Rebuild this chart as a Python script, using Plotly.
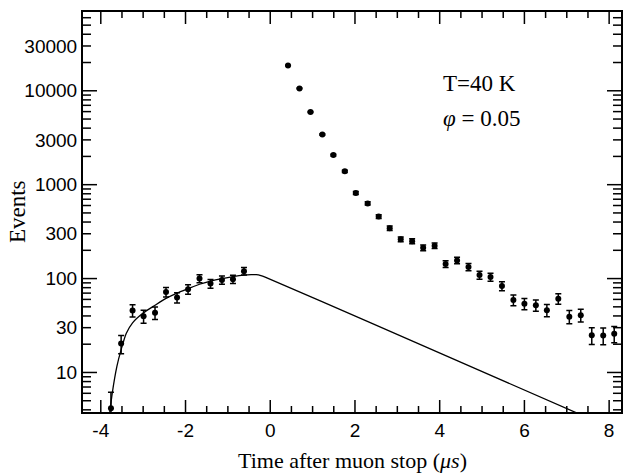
import plotly.graph_objects as go

# ---- data ----
pre_t = [-3.76, -3.52, -3.25, -2.99, -2.72, -2.46, -2.20, -1.94, -1.67, -1.41, -1.14, -0.88, -0.62]
pre_n = [4.15, 20.3, 45.8, 39.8, 43.3, 72, 62.7, 77, 100, 88.5, 96.8, 98.6, 120]
pre_err = [2.0, 4.5, 6.8, 6.3, 6.6, 8.5, 7.9, 8.8, 10.0, 9.4, 9.8, 9.9, 11.0]

post_t = [0.42, 0.69, 0.95, 1.23, 1.49, 1.76, 2.02, 2.30, 2.56, 2.82, 3.08, 3.35, 3.61, 3.88,
          4.14, 4.41, 4.68, 4.94, 5.20, 5.47, 5.74, 6.00, 6.27, 6.53, 6.80, 7.06, 7.33, 7.59,
          7.86, 8.12]
post_n = [18600, 10600, 5930, 3420, 2066, 1386, 817, 631, 458, 344, 262, 250, 213, 224,
          143, 156, 133, 109, 104, 83.5, 59, 54, 52, 46, 61, 39.3, 40.8, 24.9, 24.7, 25.8]
post_err = [136, 103, 77, 58, 45, 37, 29, 25, 21, 18.5, 16, 15.8, 14.6, 15,
            12, 12.5, 11.5, 10.4, 10.2, 9.1, 7.7, 7.4, 7.2, 6.8, 7.8, 6.3, 6.4, 5.0, 5.0, 5.1]

fit_t = [-3.79, -3.73, -3.62, -3.52, -3.40, -3.25, -3.00, -2.72, -2.46, -2.20, -1.94, -1.67,
         -1.41, -1.14, -0.88, -0.62, -0.45, -0.33, -0.22, -0.12, 2.36, 7.30]
fit_n = [3.7, 6.0, 11.6, 17.5, 26, 33.8, 43, 52, 61.5, 70, 78, 87,
         94, 100, 105, 108.8, 110, 110, 107.5, 103.5, 34, 3.6]

x_ticks = [-4, -2, 0, 2, 4, 6, 8]
x_labels = ["-4", "-2", "0", "2", "4", "6", "8"]
x_minor = [k / 2 for k in range(-8, 17) if k % 4 != 0]
y_ticks = [10, 30, 100, 300, 1000, 3000, 10000, 30000]
y_labels = ["10", "30", "100", "300", "1000", "3000", "10000", "30000"]
y_decades = [10, 100, 1000, 10000]
y_minor = [m * d for d in [1, 10, 100, 1000, 10000] for m in range(2, 10)
           if 4 <= m * d <= 60000]

Y_RANGE = [0.579, 4.839]
X_RANGE = [-4.42, 8.28]

tickfont = dict(family="Liberation Sans Narrow, Liberation Sans, Arial", size=19, color="black")
serif = "Liberation Serif, Times New Roman, serif"

fig = go.Figure()

marker = dict(color="black", size=6, symbol="circle")
err_style = dict(color="black", thickness=1.5, width=3)
fig.add_trace(go.Scatter(x=pre_t, y=pre_n, mode="markers", marker=marker,
                         error_y=dict(type="data", array=pre_err, **err_style),
                         showlegend=False))
fig.add_trace(go.Scatter(x=post_t, y=post_n, mode="markers", marker=marker,
                         error_y=dict(type="data", array=post_err, **err_style),
                         showlegend=False))
fig.add_trace(go.Scatter(x=fit_t, y=fit_n, mode="lines",
                         line=dict(color="black", width=1.3, shape="spline", smoothing=0.6),
                         showlegend=False))

# empty helper traces so that the top / right frame axes get drawn
for xa, ya in [("x2", "y"), ("x", "y2")]:
    fig.add_trace(go.Scatter(x=[], y=[], xaxis=xa, yaxis=ya, mode="markers",
                             showlegend=False, hoverinfo="skip"))

# tick marks drawn as inward pixel-sized lines, placed by the axes' own scales
tick_line = dict(color="black", width=1.5)
shapes = []
for vals, length in [(x_ticks, 12), (x_minor, 6)]:
    for v in vals:
        for top in (False, True):
            shapes.append(dict(type="line", xref="x", yref="paper", ysizemode="pixel",
                               yanchor=1 if top else 0, x0=v, x1=v,
                               y0=0, y1=-length if top else length, line=tick_line))
for vals, length in [(y_decades, 14), (y_minor, 8)]:
    for v in vals:
        for right in (False, True):
            shapes.append(dict(type="line", yref="y", xref="paper", xsizemode="pixel",
                               xanchor=1 if right else 0, y0=v, y1=v,
                               x0=0, x1=-length if right else length, line=tick_line))

common = dict(showgrid=False, zeroline=False, ticks="", linecolor="black", linewidth=2)

fig.update_layout(
    template="none",
    width=623, height=474,
    margin=dict(l=83, r=2, t=12, b=62),
    paper_bgcolor="white", plot_bgcolor="white",
    xaxis=dict(range=X_RANGE, tickmode="array", tickvals=x_ticks, ticktext=x_labels,
               showline=True, tickfont=tickfont, **common),
    xaxis2=dict(range=X_RANGE, overlaying="x", anchor="y", side="top",
                showticklabels=False, showline=True, **common),
    yaxis=dict(type="log", range=Y_RANGE, tickmode="array", tickvals=y_ticks, ticktext=y_labels,
               showline=True, tickfont=tickfont, **common),
    yaxis2=dict(type="log", range=Y_RANGE, overlaying="y", anchor="x", side="right",
                showticklabels=False, showline=True, **common),
    shapes=shapes,
    annotations=[
        dict(text="T=40 K", xref="paper", yref="paper", x=0.665, y=0.822,
             xanchor="left", yanchor="middle", showarrow=False,
             font=dict(family=serif, size=23, color="black")),
        dict(text="<i>φ</i> = 0.05", xref="paper", yref="paper", x=0.665, y=0.734,
             xanchor="left", yanchor="middle", showarrow=False,
             font=dict(family=serif, size=23, color="black")),
        dict(text="Time after muon stop (<i>μs</i>)", xref="paper", yref="paper",
             x=0.5, y=-0.12, xanchor="center", yanchor="middle", showarrow=False,
             font=dict(family=serif, size=22, color="black")),
        dict(text="Events", xref="paper", yref="paper", x=-0.1226, y=0.5,
             xanchor="center", yanchor="middle", textangle=-90, showarrow=False,
             font=dict(family=serif, size=23, color="black")),
    ],
)

fig.write_html("out.html")
